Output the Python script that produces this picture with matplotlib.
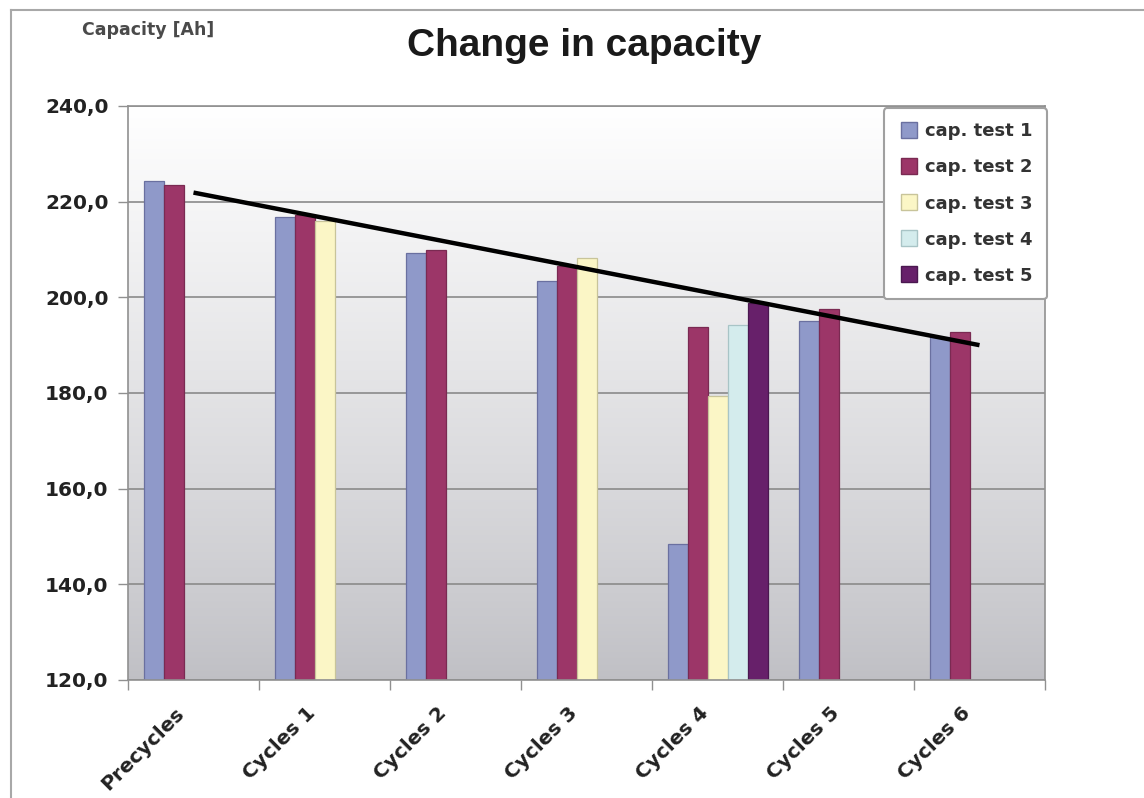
import numpy as np
import matplotlib
matplotlib.use('Agg')
import matplotlib.pyplot as plt
from matplotlib.lines import Line2D
from matplotlib.transforms import ScaledTranslation

# capacity measurements per cycle block (Ah); nan = test not run
categories = ['Precycles', 'Cycles 1', 'Cycles 2', 'Cycles 3', 'Cycles 4', 'Cycles 5', 'Cycles 6']
nan = np.nan
cap_test1 = [224.3, 216.8, 209.2, 203.5, 148.5, 195.0, 191.8]
cap_test2 = [223.4, 217.3, 210.0, 206.6, 193.8, 197.6, 192.7]
cap_test3 = [nan, 216.0, nan, 208.2, 179.4, nan, nan]
cap_test4 = [nan, nan, nan, nan, 194.3, nan, nan]
cap_test5 = [nan, nan, nan, nan, 198.8, nan, nan]
series_names = ['cap. test 1', 'cap. test 2', 'cap. test 3', 'cap. test 4', 'cap. test 5']

# trend line end points (first and last block)
trend_x = [0, 6]
trend_y = [221.9, 190.0]

y_ticks = [120, 140, 160, 180, 200, 220, 240]
y_labels = ['120,0', '140,0', '160,0', '180,0', '200,0', '220,0', '240,0']

colors = ['#8f99c9', '#9c3668', '#fbf6c6', '#d4eced', '#67206a']
edges = ['#6a70a0', '#7a2a52', '#c8c49a', '#a8c4c6', '#4a1850']

W, H = 1144, 798
fig = plt.figure(figsize=(W / 100, H / 100), dpi=100)
fig.patch.set_facecolor('white')

ax = fig.add_axes([128 / W, 1 - 680 / H, (1045 - 128) / W, (680 - 106) / H])

# grey gradient behind the bars, whiter towards the top
t = np.linspace(1.0, 0.0, 256) ** 0.85
top = np.array([1.0, 1.0, 1.0])
bot = np.array([0.75, 0.75, 0.77])
cols = (bot + (top - bot) * t[:, None])[:, None, :]
ax.imshow(cols, extent=[-0.5, 6.5, 120, 240], aspect='auto', zorder=0,
          interpolation='bilinear')

x = np.arange(len(categories))
bw = 20 / 131
all_series = [cap_test1, cap_test2, cap_test3, cap_test4, cap_test5]
for i, vals in enumerate(all_series):
    v = np.array(vals, dtype=float)
    ok = ~np.isnan(v)
    xs = x[ok] + (i - 2) * bw
    ax.bar(xs, v[ok] - 120, bottom=120, width=bw, color=colors[i],
           edgecolor=edges[i], linewidth=0.9, zorder=2)

ax.plot(trend_x, trend_y, color='black', linewidth=3.2, solid_capstyle='butt', zorder=4)

ax.set_xlim(-0.5, 6.5)
ax.set_ylim(120, 240)

ax.set_yticks(y_ticks)
ax.set_yticklabels(y_labels, fontsize=14.5, fontweight='bold', color='#222222')
ax.yaxis.grid(True, color='#8a8a8a', linewidth=1.2, zorder=1)
ax.set_axisbelow(True)

ax.set_xticks(x)
ax.set_xticks(np.arange(-0.5, 7, 1), minor=True)
ax.set_xticklabels(categories, fontsize=14.5, fontweight='bold', color='#222222',
                   rotation=45, ha='right', va='center', rotation_mode='anchor')
ax.tick_params(axis='x', which='major', length=0, pad=22)
ax.tick_params(axis='x', which='minor', length=7, width=1, color='#909090')
ax.tick_params(axis='y', length=7, width=1, color='#909090', pad=7)
for lab in ax.get_xticklabels():
    lab.set_transform(lab.get_transform() + ScaledTranslation(-12 / 100, 0, fig.dpi_scale_trans))

for s in ax.spines.values():
    s.set_color('#909090')
    s.set_linewidth(1.2)

# title and axis caption
fig.text(584 / W, 1 - 46 / H, 'Change in capacity', fontsize=28, fontweight='bold',
         family='Liberation Sans', ha='center', va='center', color='#1a1a1a')
fig.text(82 / W, 1 - 30 / H, 'Capacity [Ah]', fontsize=12.5, fontweight='bold',
         ha='left', va='center', color='#4a4a4a')

handles = [Line2D([], [], marker='s', linestyle='none', markersize=12,
                  markerfacecolor=colors[i], markeredgecolor=edges[i], markeredgewidth=1)
           for i in range(5)]
leg = fig.legend(handles, series_names, loc='upper right',
                 bbox_to_anchor=(1047 / W, 1 - 108 / H), bbox_transform=fig.transFigure,
                 prop={'weight': 'bold', 'size': 13}, frameon=True,
                 fancybox=True, borderpad=0.8, labelspacing=1.0, handletextpad=0.3,
                 handlelength=1.2, borderaxespad=0)
for txt in leg.get_texts():
    txt.set_color('#333333')
leg.get_frame().set_edgecolor('#a0a0a0')
leg.get_frame().set_linewidth(1.5)
leg.get_frame().set_facecolor('white')
leg.get_frame().set_alpha(1)

# outer chart frame (left and top edges)
fig.add_artist(Line2D([11 / W, 11 / W], [0, 1 - 10 / H], color='#a8a8a8', linewidth=1.5,
                      transform=fig.transFigure))
fig.add_artist(Line2D([11 / W, 1], [1 - 10 / H, 1 - 10 / H], color='#a8a8a8', linewidth=1.5,
                      transform=fig.transFigure))

fig.savefig('out.png', dpi=100)
